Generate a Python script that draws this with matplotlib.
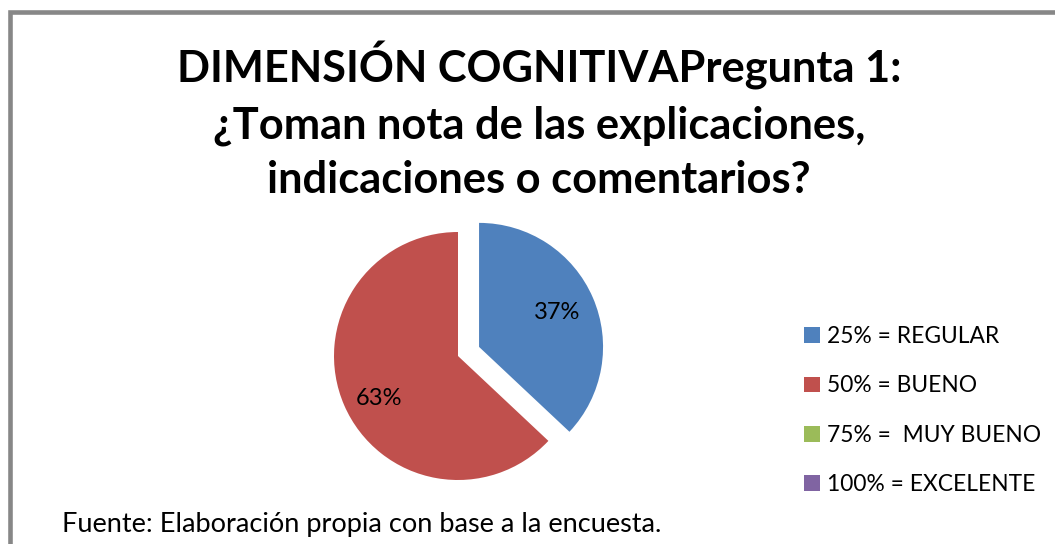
import matplotlib
matplotlib.use("Agg")
import matplotlib.pyplot as plt
from matplotlib.patches import Rectangle

categories = ["25% = REGULAR", "50% = BUENO", "75% =  MUY BUENO", "100% = EXCELENTE"]
values = [37, 63, 0, 0]
colors = ["#4F81BD", "#C0504D", "#9BBB59", "#8064A2"]
explode = [0.185, 0, 0, 0]
title_lines = ["DIMENSIÓN COGNITIVAPregunta 1:",
               "¿Toman nota de las explicaciones,",
               "indicaciones o comentarios?"]
footer = "Fuente: Elaboración propia con base a la encuesta."

W, H = 1055, 544
fig = plt.figure(figsize=(W / 100, H / 100), dpi=100)
fig.patch.set_facecolor("white")

def fx(px):
    return px / W

def fy(py):
    return 1 - py / H

# frame
fig.patches.append(Rectangle((fx(9.5), fy(700)), fx(1100), (700 - 11.5) / H,
                             transform=fig.transFigure, fill=False,
                             edgecolor="#878787", linewidth=3.3))

font = "Lato"
baselines = [82, 138, 193]
for line, b in zip(title_lines, baselines):
    fig.text(fx(539), fy(b), line, ha="center", va="baseline",
             fontsize=31.2, fontweight="bold", family=font, color="black")

# pie axes
cx, cy, r = 458, 356, 124
x0, x1, y0, y1 = 300, 620, 200, 500
ax = fig.add_axes([fx(x0), fy(y1), (x1 - x0) / W, (y1 - y0) / H])
wedges, texts, autotexts = ax.pie(
    values, colors=colors, explode=explode, startangle=90, counterclock=False,
    autopct=lambda p: f"{p:.0f}%" if p > 0 else "", pctdistance=0.69,
    wedgeprops=dict(linewidth=0), textprops=dict(fontsize=17, family=font, color="black"))
# nudge the larger slice's label slightly lower, as in the reference
px_, py_ = autotexts[1].get_position()
autotexts[1].set_position((px_, py_ - 0.07))
ax.set_aspect("auto")
ax.set_xlim((x0 - cx) / r, (x1 - cx) / r)
ax.set_ylim((cy - y1) / r, (cy - y0) / r)
ax.axis("off")

leg = fig.legend(wedges, categories, loc="upper left",
                 bbox_to_anchor=(fx(804), fy(326)), frameon=False,
                 prop=dict(family=font, size=16.4), handlelength=0.7, handleheight=0.7,
                 handletextpad=0.3, labelspacing=1.25, borderpad=0, borderaxespad=0)

fig.text(fx(62), fy(532), footer, ha="left", va="baseline",
         fontsize=19.5, family=font, color="black")

fig.savefig("out.png", dpi=100, facecolor="white")
